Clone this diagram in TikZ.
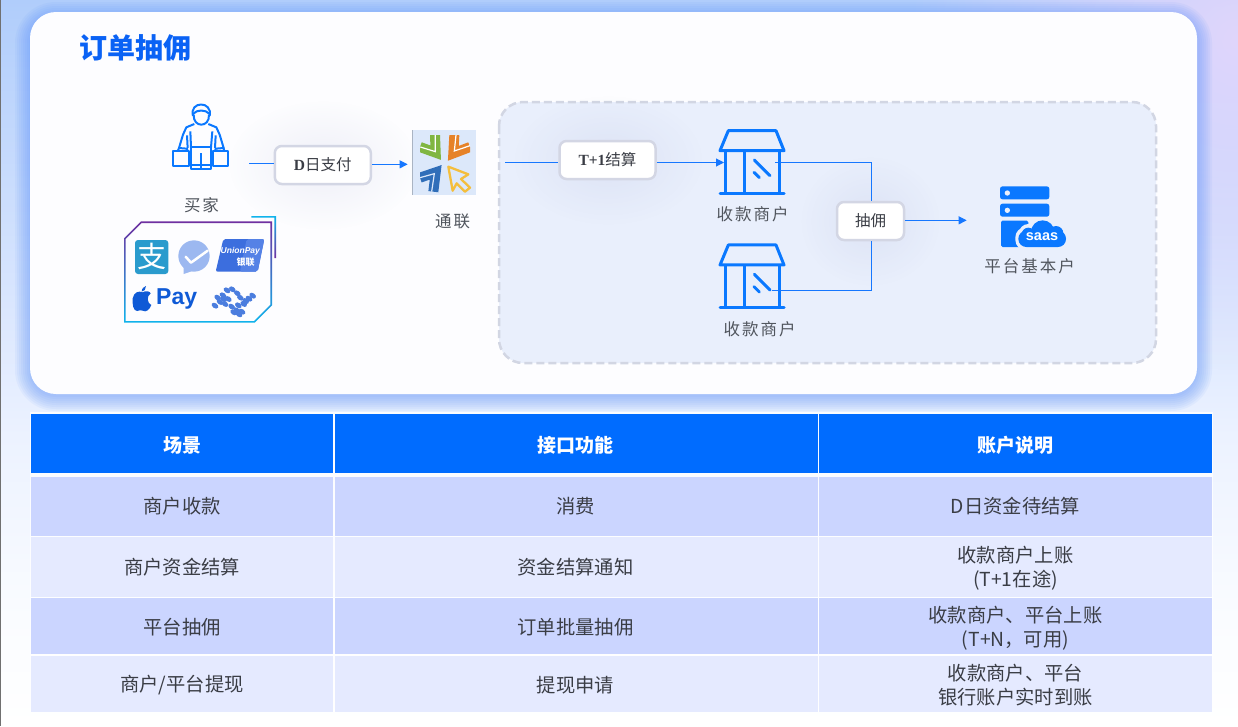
\documentclass[tikz,border=0pt]{standalone}
\usepackage{fontspec}
\setmainfont{Noto Sans CJK SC}
\newfontfamily\latserif{Liberation Serif}
\newfontfamily\latsans{Liberation Sans}
\usetikzlibrary{arrows.meta,fadings,shadings}
\definecolor{bluemain}{HTML}{0A78FF}
\definecolor{linkblue}{HTML}{1677FF}
\definecolor{headblue}{HTML}{006CFF}
\definecolor{rowa}{HTML}{CBD5FF}
\definecolor{rowb}{HTML}{E5EAFF}
\definecolor{panel}{HTML}{E9EFFC}
\definecolor{dashc}{HTML}{D2D6E3}
\definecolor{boxc}{HTML}{D3D6E4}
\definecolor{labc}{HTML}{50555D}
\definecolor{txtc}{HTML}{3A3D45}
\definecolor{purp}{HTML}{7030A0}
\definecolor{cyanb}{HTML}{10B4EC}
\definecolor{bgtop}{RGB}{176,205,251}
\definecolor{bgmid}{RGB}{216,229,254}
\definecolor{bglow}{RGB}{236,242,255}
\definecolor{bgbot}{RGB}{250,252,255}
\definecolor{lavender}{RGB}{224,214,252}
\definecolor{edgegray}{RGB}{112,112,112}
\definecolor{cardglow}{RGB}{90,145,250}
\definecolor{cardfill}{RGB}{253,253,255}
\definecolor{titleblue}{RGB}{10,98,245}
\definecolor{alipayc}{RGB}{42,155,205}
\definecolor{wechatc}{RGB}{156,184,240}
\definecolor{uniona}{RGB}{60,110,222}
\definecolor{unionb}{RGB}{85,130,230}
\definecolor{applec}{RGB}{15,90,214}
\definecolor{swirlc}{RGB}{75,125,222}
\definecolor{tlbg}{RGB}{220,232,250}
\definecolor{tledge}{RGB}{170,180,195}
\definecolor{tlgreen}{RGB}{128,182,66}
\definecolor{tlorange}{RGB}{230,130,40}
\definecolor{tlblue}{RGB}{48,110,185}
\definecolor{tlyellow}{RGB}{244,190,60}
\definecolor{glowc}{RGB}{120,130,190}
\pgfdeclareverticalshading{pagebg}{100bp}{color(0bp)=(white); color(25bp)=(white); color(32.5bp)=(bgbot); color(45bp)=(bglow); color(55bp)=(bgmid); color(75bp)=(bgtop); color(100bp)=(bgtop)}
\tikzfading[name=softout, inner color=transparent!0, outer color=transparent!100]
\newcommand{\fs}[1]{\fontsize{#1}{24}\selectfont}
\newcommand{\softglowbox}[4]{%
  \fill[glowc,opacity=.11,path fading=softout] (#1,#2) ellipse (#3 and #4);
}
\newcommand{\storeicon}{%
  \draw[iconline,line join=round] (60,122) -- (85,62) -- (228,62) -- (252,122) -- cycle;
  \draw[iconline] (75,122) -- (75,250) (132,122) -- (132,250) (237,122) -- (237,250);
  \draw[iconline,line cap=round] (60,250) -- (252,250);
  \draw[iconline,line cap=round] (163,150) -- (210,197) (162,187) -- (178,203);
}
\tikzset{
  iconline/.style={draw=bluemain,line width=3pt},
  thinicon/.style={draw=bluemain,line width=2pt,line join=round},
  link/.style={draw=linkblue,line width=1pt},
  linkarrow/.style={link,-{Triangle[length=8pt,width=8pt]}},
  tagbox/.style={draw=boxc,line width=2.5pt,fill=white,rounded corners=7pt,inner sep=0pt,text=txtc,font=\fs{15.5}},
  flowlabel/.style={text=labc,font=\fs{16.5},inner sep=0pt},
  headcell/.style={text=white,font=\bfseries\fs{19},inner sep=0pt},
  bodycell/.style={text=txtc,font=\fs{19.3},inner sep=0pt,align=center},
}
\begin{document}
\begin{tikzpicture}[x=1pt,y=-1pt]
\useasboundingbox (0,0) rectangle (1238,726);
% page background
\shade[shading=pagebg] (0,0) rectangle (1238,726);
\begin{scope}
  \clip (0,0) rectangle (1238,726);
  \fill[lavender,path fading=softout] (1238,40) circle (330);
\end{scope}
\fill[edgegray] (0,0) rectangle (1.2,726);
% card shadow
\foreach \g in {15,13,...,1}{
  \fill[cardglow,opacity=.07,rounded corners={26pt+\g*1pt}] (30-\g,12-\g+5) rectangle (1197+\g,394+\g+2);
}
\fill[cardfill,rounded corners=26pt] (30,12) rectangle (1197,394);
% title
\node[text=titleblue,font=\bfseries\fs{28},inner sep=0pt] (title) at (135,48) {订单抽佣};
% dashed panel
\draw[draw=dashc,fill=panel,line width=2.5pt,dash pattern=on 8pt off 4pt,rounded corners=24pt] (499,102) rectangle (1156,363);
% glows
\softglowbox{323}{165}{95}{65}
\softglowbox{608}{160}{95}{65}
\softglowbox{870}{221}{70}{65}
% buyer icon
\begin{scope}[shift={(165,98)},scale=0.33333]
  \draw[thinicon] (84,54) .. controls (72,8) and (144,8) .. (134,54);
  \draw[thinicon] (84,48) .. controls (95,34) and (122,34) .. (134,48);
  \draw[thinicon] (86,50) .. controls (84,90) and (134,90) .. (132,50);
  \draw[thinicon] (88,78) -- (64,88) -- (54,110) -- (42,150);
  \draw[thinicon] (130,78) -- (154,88) -- (164,110) -- (176,150);
  \draw[thinicon] (66,112) -- (68,150) (152,112) -- (150,150);
  \draw[thinicon] (76,100) -- (78,148) (142,100) -- (138,148);
  \draw[thinicon] (78,148) -- (138,148) -- (138,213) -- (78,213) -- cycle;
  \draw[thinicon] (108,165) -- (108,213) (78,200) -- (138,200);
  \draw[thinicon] (25,160) rectangle (73,205);
  \draw[thinicon] (143,160) rectangle (190,205);
  \draw[thinicon] (38,160) -- (42,150) -- (66,152) -- (68,160);
  \draw[thinicon] (150,160) -- (152,152) -- (176,150) -- (178,160);
\end{scope}
\begin{scope}[shift={(110,90)},scale=0.33333]
  \coordinate (buyerout) at (418,220);
  % payment frame, gradient outline
  \shade[top color=purp,bottom color=cyanb,even odd rule]
    (42,445) -- (93,394) -- (486,394) -- (486,646) -- (434,698) -- (42,698) -- cycle
    (47,447) -- (95,399) -- (481,399) -- (481,644) -- (432,693) -- (47,693) -- cycle;
  \shade[top color=cyanb,bottom color=purp]
    (424,378) -- (498,378) -- (498,504) -- (493,504) -- (493,383) -- (424,383) -- cycle;
\end{scope}
\begin{scope}[shift={(125,230)},scale=0.33333]
  % alipay
  \fill[alipayc,rounded corners=3pt] (30,30) rectangle (130,132);
  \node[text=white,font=\fs{29},inner sep=0pt] (alipay) at (80,80) {支};
  % wechat
  \fill[wechatc] (207,78) circle (47);
  \fill[wechatc] (176,108) -- (176,132) -- (205,122) -- cycle;
  \draw[white,line width=2.5pt,line cap=round,line join=round] (182,80) -- (198,98) -- (248,62);
  % unionpay
  \fill[uniona,rounded corners=2pt] (295,27) -- (418,27) -- (398,125) -- (272,125) -- cycle;
  \fill[unionb,rounded corners=2pt] (365,27) -- (418,27) -- (398,125) -- (345,125) -- cycle;
  \node[text=white,font=\latsans\bfseries\itshape\fs{8.5},inner sep=0pt] (unionpay) at (346,65) {UnionPay};
  \node[text=white,font=\bfseries\fs{9},inner sep=0pt] (unionbank) at (362,97) {银联};
  % apple pay
  \begin{scope}[shift={(-45,-420)}]
  \fill[applec] (97,607) .. controls (110,600) and (120,605) .. (122,610) .. controls (108,620) and (112,640) .. (124,645) .. controls (118,660) and (108,668) .. (98,662) .. controls (92,660) and (88,660) .. (82,663) .. controls (70,665) and (66,640) .. (68,625) .. controls (72,605) and (88,602) .. (97,607) -- cycle;
  \fill[applec] (95,605) .. controls (95,595) and (102,590) .. (108,588) .. controls (108,597) and (103,605) .. (95,605) -- cycle;
  \end{scope}
  \node[text=applec,font=\latsans\bfseries\fs{23},inner sep=0pt,anchor=base west] (applepay) at (93,222) {Pay};
  % dotted swirl logo
  \foreach \px/\py in {270/227,285/216,278/203,294/196,306/181,322/178,337/190,346/203,300/222,310/207,340/226,356/222,372/206,383/197,362/213,335/241,351/245,320/230,326/247,342/253,296/207}{
    \fill[swirlc,rotate around={-35:(\px,\py)}] (\px,\py) ellipse (11 and 7.5);
  }
\end{scope}
% tonglian logo
\fill[tlbg] (412.3,130) rectangle (476,195);
\draw[tledge,line width=.8pt] (412.5,130) -- (412.5,195);
\begin{scope}[shift={(405,125)},scale=0.33333]
  \begin{scope}
    \clip (45,30) rectangle (195,205);
    \draw[tlgreen,line width=10pt,line join=miter] (90,30) -- (92,83) -- (45,66);
    \draw[white,line width=1.2pt] (91,30) -- (91,80) -- (46,66);
    \draw[tlorange,line width=10pt,line join=miter] (148,30) -- (145,85) -- (195,66);
    \draw[white,line width=1.2pt] (153,30) -- (148,78) -- (195,62);
    \draw[tlblue,line width=10pt,line join=miter] (45,158) -- (92,142) -- (85,200);
    \draw[tlbg,line width=1.2pt] (45,158) -- (88,146) -- (80,200);
  \end{scope}
  \draw[tlyellow,line width=2.3pt,line join=round] (130,125) -- (190,148) -- (168,162) -- (195,188) -- (180,200) -- (155,175) -- (143,197) -- cycle;
\end{scope}
\begin{scope}[shift={(110,90)},scale=0.33333]
  \coordinate (tonglianin) at (893,223);
\end{scope}
% panel left start
\coordinate (panelin) at (505,162.5);
\coordinate (store1in) at (724,162.5);
% stores
\begin{scope}[shift={(700,110)},scale=0.33333]
  \storeicon
  \coordinate (store1out) at (225,157);
  \coordinate (jointa) at (513,157);
\end{scope}
\begin{scope}[shift={(700,224.3)},scale=0.33333]
  \storeicon
  \coordinate (store2out) at (215,200);
  \coordinate (jointb) at (515,200);
\end{scope}
% saas icon
\begin{scope}[shift={(990,180)},scale=0.33333]
  \fill[bluemain,rounded corners=2.5pt] (30,19) rectangle (178,58);
  \fill[bluemain,rounded corners=2.5pt] (30,71) rectangle (178,110);
  \fill[panel] (52,39) circle (8);
  \fill[panel] (52,91) circle (8);
  \fill[bluemain,rounded corners=1.5pt] (33,122) rectangle (115,201);
  % white gap round the cloud
  \fill[panel,rounded corners=10pt] (76,142) rectangle (234,210);
  \fill[panel] (158,156) circle (42);
  \fill[panel] (115,160) circle (28);
  \fill[bluemain,rounded corners=8pt] (85,152) rectangle (228,201);
  \fill[bluemain] (158,156) circle (35);
  \fill[bluemain] (115,163) circle (20);
  \fill[bluemain] (198,160) circle (22);
  \node[text=white,font=\latsans\bfseries\fs{14.5},inner sep=0pt] (saas) at (156,171) {saas};
\end{scope}
\begin{scope}[shift={(700,110)},scale=0.33333]
  \coordinate (saasin) at (800,331);
\end{scope}
% labelled boxes
\node[tagbox,minimum width=96pt,minimum height=38pt] (dpay) at (322.8,165) {{\latserif\bfseries D}日支付};
\node[tagbox,minimum width=96pt,minimum height=38pt] (settle) at (607.5,160) {{\latserif\bfseries T+1}结算};
\node[tagbox,minimum width=67pt,minimum height=38pt] (comm) at (870.5,221) {抽佣};
% connectors
\draw[link] (buyerout) -- (buyerout -| dpay.west);
\draw[linkarrow] (dpay.east |- tonglianin) -- (tonglianin);
\draw[link] (panelin) -- (panelin -| settle.west);
\draw[linkarrow] (settle.east |- store1in) -- (store1in);
\draw[link] (store1out) -- (jointa) -- (jointa |- comm.north);
\draw[link] (store2out) -- (jointb) -- (jointb |- comm.south);
\draw[linkarrow] (comm.east |- saasin) -- (saasin);
% labels
\node[flowlabel] (buyerlab) at (201.5,205) {买\kern2pt 家};
\node[flowlabel] (tllab) at (452.5,221) {通\kern2pt 联};
\node[flowlabel] (s1lab) at (752.5,214) {收\kern2pt 款\kern2pt 商\kern2pt 户};
\node[flowlabel] (s2lab) at (759.5,329) {收\kern2pt 款\kern2pt 商\kern2pt 户};
\node[flowlabel] (saaslab) at (1029.5,266) {平\kern2pt 台\kern2pt 基\kern2pt 本\kern2pt 户};
% table
\fill[white,opacity=.8] (30,412) rectangle (1213,713);
\foreach \xa/\xb in {30.5/333,335/817.5,819/1212}{
  \fill[headblue] (\xa,414) rectangle (\xb,472.5);
  \fill[rowa] (\xa,476.5) rectangle (\xb,535.5);
  \fill[rowb] (\xa,537) rectangle (\xb,596.5);
  \fill[rowa] (\xa,598) rectangle (\xb,654);
  \fill[rowb] (\xa,655.5) rectangle (\xb,712);
}
\node[headcell] (h1) at (182,445) {场景};
\node[headcell] (h2) at (575.5,445) {接口功能};
\node[headcell] (h3) at (1015,445) {账户说明};
\node[bodycell] (a1) at (182,506) {商户收款};
\node[bodycell] (b1) at (575.5,506) {消费};
\node[bodycell] (c1) at (1015.5,506) {D日资金待结算};
\node[bodycell] (a2) at (182,567) {商户资金结算};
\node[bodycell] (b2) at (575.5,567) {资金结算通知};
\node[bodycell,text width=300pt] (c2) at (1015.5,568.5) {收款商户上账\\(T+1在途)};
\node[bodycell] (a3) at (182,627) {平台抽佣};
\node[bodycell] (b3) at (575.5,627) {订单批量抽佣};
\node[bodycell,text width=300pt] (c3) at (1015.5,628) {收款商户、平台上账\\(T+N，可用)};
\node[bodycell] (a4) at (182,685) {商户/平台提现};
\node[bodycell] (b4) at (575.5,685) {提现申请};
\node[bodycell,text width=300pt] (c4) at (1015.5,685) {收款商户、平台\\银行账户实时到账};
\end{tikzpicture}
\end{document}
